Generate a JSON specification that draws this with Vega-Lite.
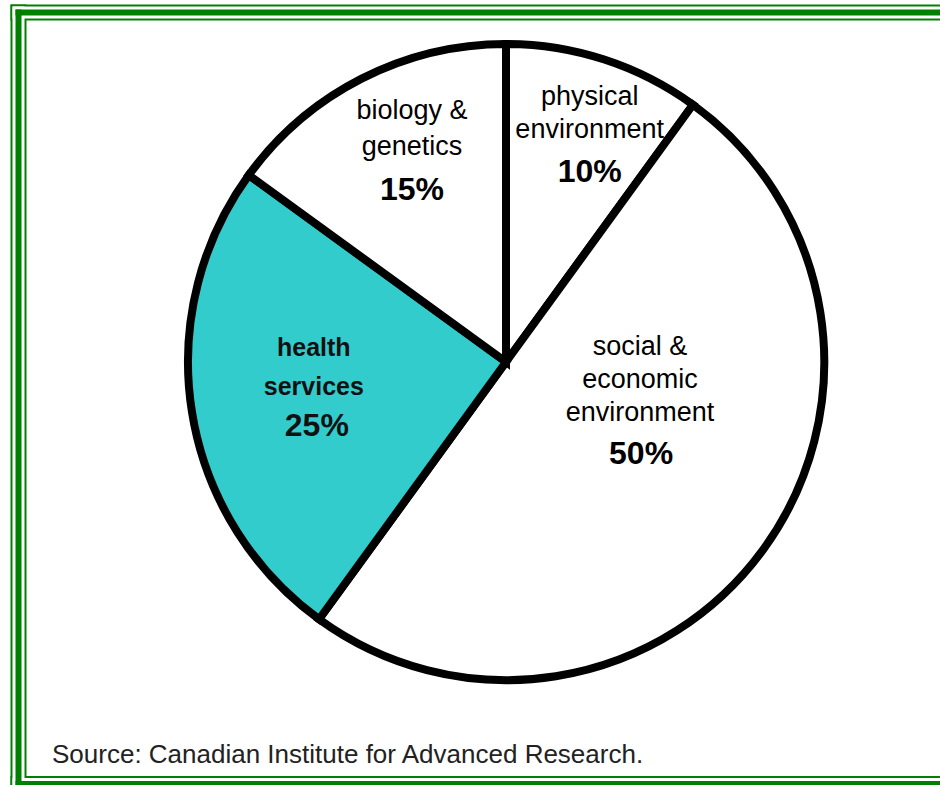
{
  "$schema": "https://vega.github.io/schema/vega-lite/v6.json",
  "width": 970,
  "height": 771.5,
  "autosize": {"type": "none"},
  "padding": {"left": 18.5, "top": 12.5, "right": -48.5, "bottom": 1},
  "background": "white",
  "config": {"view": {"stroke": null}},
  "title": {
    "text": "Source: Canadian Institute for Advanced Research.",
    "orient": "bottom",
    "anchor": "start",
    "frame": "group",
    "offset": -53,
    "dx": 33.5,
    "font": "Liberation Sans",
    "fontSize": 26,
    "fontWeight": "normal",
    "color": "#222222"
  },
  "data": {
    "values": [
      {"category": "physical", "name": "physical\nenvironment", "pct": "10%", "value": 10, "order": 1},
      {"category": "social", "name": "social &\neconomic\nenvironment", "pct": "50%", "value": 50, "order": 2},
      {"category": "health", "name": "health\nservices", "pct": "25%", "value": 25, "order": 3},
      {"category": "biology", "name": "biology &\ngenetics", "pct": "15%", "value": 15, "order": 4}
    ]
  },
  "layer": [
    {
      "data": {"values": [{}]},
      "mark": {"type": "rule", "stroke": "#008000", "strokeWidth": 16, "strokeCap": "square"},
      "encoding": {
        "x": {"datum": 0, "type": "quantitative", "scale": {"domain": [0, 1], "nice": false, "zero": false}, "axis": null},
        "x2": {"datum": 1},
        "y": {"datum": 1, "type": "quantitative", "scale": {"domain": [0, 1], "nice": false, "zero": false}, "axis": null}
      }
    },
    {
      "data": {"values": [{}]},
      "mark": {"type": "rule", "stroke": "#008000", "strokeWidth": 16, "strokeCap": "square"},
      "encoding": {
        "x": {"datum": 0, "type": "quantitative", "axis": null},
        "x2": {"datum": 1},
        "y": {"datum": 0, "type": "quantitative", "axis": null}
      }
    },
    {
      "data": {"values": [{}]},
      "mark": {"type": "rule", "stroke": "#008000", "strokeWidth": 16, "strokeCap": "square"},
      "encoding": {
        "x": {"datum": 0, "type": "quantitative", "axis": null},
        "y": {"datum": 0, "type": "quantitative", "axis": null},
        "y2": {"datum": 1}
      }
    },
    {
      "data": {"values": [{}]},
      "mark": {"type": "rule", "stroke": "#ffffff", "strokeWidth": 12, "strokeCap": "square"},
      "encoding": {
        "x": {"datum": 0, "type": "quantitative", "axis": null},
        "x2": {"datum": 1},
        "y": {"datum": 1, "type": "quantitative", "axis": null}
      }
    },
    {
      "data": {"values": [{}]},
      "mark": {"type": "rule", "stroke": "#ffffff", "strokeWidth": 12, "strokeCap": "square"},
      "encoding": {
        "x": {"datum": 0, "type": "quantitative", "axis": null},
        "x2": {"datum": 1},
        "y": {"datum": 0, "type": "quantitative", "axis": null}
      }
    },
    {
      "data": {"values": [{}]},
      "mark": {"type": "rule", "stroke": "#ffffff", "strokeWidth": 12, "strokeCap": "square"},
      "encoding": {
        "x": {"datum": 0, "type": "quantitative", "axis": null},
        "y": {"datum": 0, "type": "quantitative", "axis": null},
        "y2": {"datum": 1}
      }
    },
    {
      "data": {"values": [{}]},
      "mark": {"type": "rule", "stroke": "#008000", "strokeWidth": 6, "strokeCap": "square"},
      "encoding": {
        "x": {"datum": 0, "type": "quantitative", "axis": null},
        "x2": {"datum": 1},
        "y": {"datum": 1, "type": "quantitative", "axis": null}
      }
    },
    {
      "data": {"values": [{}]},
      "mark": {"type": "rule", "stroke": "#008000", "strokeWidth": 6, "strokeCap": "square"},
      "encoding": {
        "x": {"datum": 0, "type": "quantitative", "axis": null},
        "x2": {"datum": 1},
        "y": {"datum": 0, "type": "quantitative", "axis": null}
      }
    },
    {
      "data": {"values": [{}]},
      "mark": {"type": "rule", "stroke": "#008000", "strokeWidth": 6, "strokeCap": "square"},
      "encoding": {
        "x": {"datum": 0, "type": "quantitative", "axis": null},
        "y": {"datum": 0, "type": "quantitative", "axis": null},
        "y2": {"datum": 1}
      }
    },
    {
      "mark": {"type": "arc", "outerRadius": 318, "stroke": "black", "strokeWidth": 8, "xOffset": 2.5, "yOffset": -36.25},
      "encoding": {
        "theta": {"field": "value", "type": "quantitative", "stack": true},
        "order": {"field": "order", "type": "quantitative"},
        "fill": {
          "field": "category",
          "type": "nominal",
          "scale": {"domain": ["physical", "social", "health", "biology"], "range": ["#ffffff", "#ffffff", "#33cccc", "#ffffff"]},
          "legend": null
        }
      }
    },
    {
      "mark": {"type": "text", "font": "Liberation Sans", "fontSize": 27, "lineBreak": "\n", "lineHeight": 33, "baseline": "alphabetic", "align": "center", "dx": 20, "dy": -61, "xOffset": 2.5, "yOffset": -36.25, "fill": "#000000"},
      "encoding": {
        "theta": {"field": "value", "type": "quantitative", "stack": true},
        "order": {"field": "order", "type": "quantitative"},
        "radius": {"field": "value", "type": "quantitative", "scale": {"type": "linear", "domain": [10, 50], "range": [206, 162], "zero": false}},
        "text": {"condition": {"test": "datum.category !== 'physical'", "value": ""}, "field": "name"}
      }
    },
    {
      "mark": {"type": "text", "font": "Liberation Sans", "fontSize": 27, "lineBreak": "\n", "lineHeight": 36, "baseline": "alphabetic", "align": "center", "dx": -3, "dy": -64, "xOffset": 2.5, "yOffset": -36.25, "fill": "#000000"},
      "encoding": {
        "theta": {"field": "value", "type": "quantitative", "stack": true},
        "order": {"field": "order", "type": "quantitative"},
        "radius": {"field": "value", "type": "quantitative", "scale": {"type": "linear", "domain": [10, 50], "range": [206, 162], "zero": false}},
        "text": {"condition": {"test": "datum.category !== 'biology'", "value": ""}, "field": "name"}
      }
    },
    {
      "mark": {"type": "text", "font": "Liberation Sans", "fontSize": 27, "lineBreak": "\n", "lineHeight": 33, "baseline": "alphabetic", "align": "center", "dx": 3, "dy": -102, "xOffset": 2.5, "yOffset": -36.25, "fill": "#000000"},
      "encoding": {
        "theta": {"field": "value", "type": "quantitative", "stack": true},
        "order": {"field": "order", "type": "quantitative"},
        "radius": {"field": "value", "type": "quantitative", "scale": {"type": "linear", "domain": [10, 50], "range": [206, 162], "zero": false}},
        "text": {"condition": {"test": "datum.category !== 'social'", "value": ""}, "field": "name"}
      }
    },
    {
      "mark": {"type": "text", "font": "Liberation Sans", "fontSize": 25, "fontWeight": "bold", "lineBreak": "\n", "lineHeight": 39, "baseline": "alphabetic", "align": "center", "dx": -5, "dy": -36, "xOffset": 2.5, "yOffset": -36.25, "fill": "#111111"},
      "encoding": {
        "theta": {"field": "value", "type": "quantitative", "stack": true},
        "order": {"field": "order", "type": "quantitative"},
        "radius": {"field": "value", "type": "quantitative", "scale": {"type": "linear", "domain": [10, 50], "range": [206, 162], "zero": false}},
        "text": {"condition": {"test": "datum.category !== 'health'", "value": ""}, "field": "name"}
      }
    },
    {
      "mark": {"type": "text", "font": "Liberation Sans", "fontSize": 32, "fontWeight": "bold", "baseline": "middle", "align": "center", "dx": 20, "dy": 6, "xOffset": 2.5, "yOffset": -36.25, "fill": "#000000"},
      "encoding": {
        "theta": {"field": "value", "type": "quantitative", "stack": true},
        "order": {"field": "order", "type": "quantitative"},
        "radius": {"field": "value", "type": "quantitative", "scale": {"type": "linear", "domain": [10, 50], "range": [206, 162], "zero": false}},
        "text": {"condition": {"test": "datum.category !== 'physical'", "value": ""}, "field": "pct"}
      }
    },
    {
      "mark": {"type": "text", "font": "Liberation Sans", "fontSize": 32, "fontWeight": "bold", "baseline": "middle", "align": "center", "dx": -3, "dy": 7, "xOffset": 2.5, "yOffset": -36.25, "fill": "#000000"},
      "encoding": {
        "theta": {"field": "value", "type": "quantitative", "stack": true},
        "order": {"field": "order", "type": "quantitative"},
        "radius": {"field": "value", "type": "quantitative", "scale": {"type": "linear", "domain": [10, 50], "range": [206, 162], "zero": false}},
        "text": {"condition": {"test": "datum.category !== 'biology'", "value": ""}, "field": "pct"}
      }
    },
    {
      "mark": {"type": "text", "font": "Liberation Sans", "fontSize": 32, "fontWeight": "bold", "baseline": "middle", "align": "center", "dx": 4, "dy": -3, "xOffset": 2.5, "yOffset": -36.25, "fill": "#000000"},
      "encoding": {
        "theta": {"field": "value", "type": "quantitative", "stack": true},
        "order": {"field": "order", "type": "quantitative"},
        "radius": {"field": "value", "type": "quantitative", "scale": {"type": "linear", "domain": [10, 50], "range": [206, 162], "zero": false}},
        "text": {"condition": {"test": "datum.category !== 'social'", "value": ""}, "field": "pct"}
      }
    },
    {
      "mark": {"type": "text", "font": "Liberation Sans", "fontSize": 32, "fontWeight": "bold", "baseline": "middle", "align": "center", "dx": -2, "dy": 34, "xOffset": 2.5, "yOffset": -36.25, "fill": "#111111"},
      "encoding": {
        "theta": {"field": "value", "type": "quantitative", "stack": true},
        "order": {"field": "order", "type": "quantitative"},
        "radius": {"field": "value", "type": "quantitative", "scale": {"type": "linear", "domain": [10, 50], "range": [206, 162], "zero": false}},
        "text": {"condition": {"test": "datum.category !== 'health'", "value": ""}, "field": "pct"}
      }
    }
  ]
}
